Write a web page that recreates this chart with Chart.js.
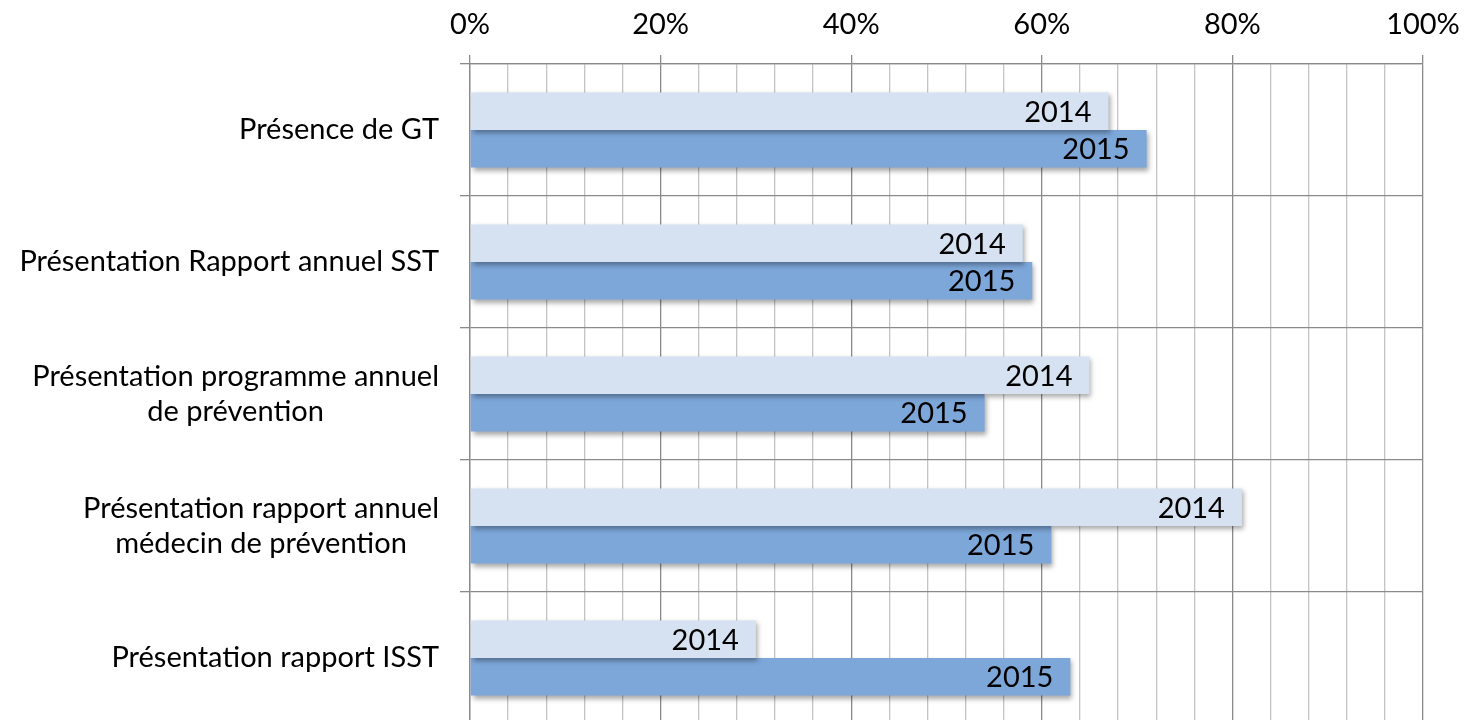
<!DOCTYPE html>
<html>
<head>
<meta charset="utf-8">
<script src="https://cdn.jsdelivr.net/npm/chart.js@4.4.1/dist/chart.umd.min.js"></script>
<style>
html,body{margin:0;padding:0;background:#fff;overflow:hidden;width:1466px;height:720px;}
#wrap{width:1466px;height:724px;}
</style>
</head>
<body>
<div id="wrap"><canvas id="c" width="1466" height="724"></canvas></div>
<script>
const categories = [
  ['Présence de GT'],
  ['Présentation Rapport annuel SST'],
  ['Présentation programme annuel', 'de prévention'],
  ['Présentation rapport annuel', 'médecin de prévention'],
  ['Présentation rapport ISST']
];
const seriesNames = ['2014', '2015'];
const values2014 = [67, 58, 65, 81, 30];
const values2015 = [71, 59, 54, 61, 63];
const tickStep = 4;
const labelStep = 20;

const FONT = 'Lato';
const FSIZE = 29;

const shadowPlugin = {
  id: 'barShadow',
  beforeDatasetDraw(chart) {
    const ctx = chart.ctx;
    ctx.save();
    ctx.shadowColor = 'rgba(0,0,0,0.35)';
    ctx.shadowBlur = 5;
    ctx.shadowOffsetX = 2;
    ctx.shadowOffsetY = 3;
  },
  afterDatasetDraw(chart) {
    chart.ctx.restore();
  }
};

const barLabelPlugin = {
  id: 'barLabels',
  afterDatasetsDraw(chart) {
    const ctx = chart.ctx;
    ctx.save();
    ctx.font = FSIZE + 'px ' + FONT;
    ctx.fillStyle = '#000';
    ctx.textAlign = 'right';
    ctx.textBaseline = 'middle';
    chart.data.datasets.forEach((ds, di) => {
      const meta = chart.getDatasetMeta(di);
      meta.data.forEach(el => {
        ctx.fillText(ds.label, el.x - 17, el.y + 1);
      });
    });
    ctx.restore();
  }
};

const catLabelPlugin = {
  id: 'catLabels',
  afterDraw(chart) {
    const ctx = chart.ctx;
    const ys = chart.scales.y;
    ctx.save();
    ctx.font = FSIZE + 'px ' + FONT;
    ctx.fillStyle = '#000';
    ctx.textAlign = 'center';
    ctx.textBaseline = 'middle';
    const lh = 35;
    const right = chart.chartArea.left - 31;
    categories.forEach((lines, i) => {
      const cy = ys.getPixelForValue(i);
      const w = Math.max(...lines.map(l => ctx.measureText(l).width));
      const cx = right - w / 2;
      const y0 = cy - (lines.length - 1) * lh / 2;
      lines.forEach((l, k) => ctx.fillText(l, cx, y0 + k * lh));
    });
    ctx.restore();
  }
};

new Chart(document.getElementById('c'), {
  type: 'bar',
  data: {
    labels: categories,
    datasets: [
      { label: seriesNames[0], data: values2014, backgroundColor: '#d6e2f1', barPercentage: 1, categoryPercentage: 0.57 },
      { label: seriesNames[1], data: values2015, backgroundColor: '#7da7d9', barPercentage: 1, categoryPercentage: 0.57 }
    ]
  },
  options: {
    indexAxis: 'y',
    responsive: false,
    animation: false,
    layout: { padding: { top: 0, right: 43, bottom: 0, left: 0 } },
    plugins: { legend: { display: false }, tooltip: { enabled: false } },
    scales: {
      x: {
        position: 'top',
        min: 0, max: 100,
        afterFit(scale) { scale.height = 64; scale.paddingLeft = 0; scale.paddingRight = 0; },
        ticks: {
          stepSize: tickStep,
          autoSkip: false,
          maxRotation: 0,
          padding: 13,
          color: '#000',
          font: { family: FONT, size: FSIZE },
          callback: v => (v % labelStep === 0 ? v + '%' : '')
        },
        grid: {
          lineWidth: 1.3,
          color: c => (c.tick && c.tick.value % labelStep === 0 ? '#8a8a8a' : '#c4c4c4'),
          tickColor: c => (c.tick && c.tick.value % labelStep === 0 ? '#8a8a8a' : 'rgba(0,0,0,0)'),
          tickLength: 9
        },
        border: { display: true, color: '#8a8a8a', width: 1.3 }
      },
      y: {
        afterFit(scale) { scale.width = 470; },
        ticks: { display: false },
        grid: { offset: true, color: '#8a8a8a', lineWidth: 1.3, tickLength: 10 },
        border: { display: true, color: '#8a8a8a', width: 1.3 }
      }
    }
  },
  plugins: [shadowPlugin, barLabelPlugin, catLabelPlugin]
});
</script>
</body>
</html>
